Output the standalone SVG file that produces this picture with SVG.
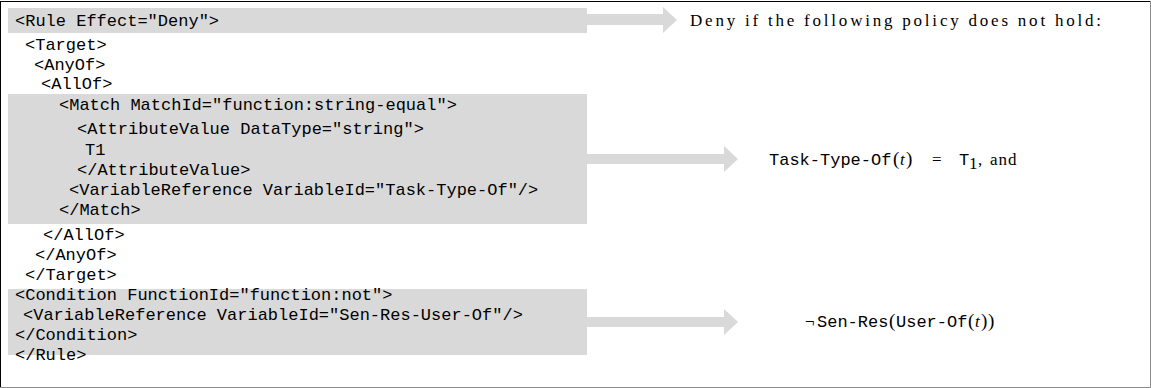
<svg xmlns="http://www.w3.org/2000/svg" width="1151" height="388" viewBox="0 0 1151 388">
<style>
.band{fill:#d9d9d9}
.arrow{fill:#d9d9d9}
.code{font-family:"Liberation Mono","DejaVu Sans Mono",monospace;font-size:17px;fill:#000}
.rm{font-family:"Liberation Serif","DejaVu Serif",serif;font-size:17px;fill:#000}
.it{font-family:"Liberation Serif","DejaVu Serif",serif;font-size:17px;font-style:italic;fill:#000}
.paren{font-family:"Liberation Serif","DejaVu Serif",serif;font-size:19px;fill:#000}
</style>
<rect x="0" y="0" width="1151" height="388" fill="#fff"/>
<g id="frame">
<line x1="0" y1="1.5" x2="1151" y2="1.5" stroke="#000" stroke-width="1"/>
<line x1="0.5" y1="1" x2="0.5" y2="387" stroke="#000" stroke-width="1"/>
<line x1="1150.5" y1="1" x2="1150.5" y2="387" stroke="#8c8c8c" stroke-width="1"/>
<line x1="0" y1="387.5" x2="1151" y2="387.5" stroke="#8c8c8c" stroke-width="1"/>
</g>
<g id="rule-open">
<rect class="band" x="8" y="8" width="579" height="25"/>
<text class="code" x="15" y="26">&lt;Rule Effect="Deny"&gt;</text>
</g>
<g id="target">
<text class="code" x="25" y="50">&lt;Target&gt;</text>
<text class="code" x="34" y="70">&lt;AnyOf&gt;</text>
<text class="code" x="41" y="89">&lt;AllOf&gt;</text>
</g>
<g id="match">
<rect class="band" x="8" y="94" width="579" height="130"/>
<text class="code" x="59" y="110">&lt;Match MatchId="function:string-equal"&gt;</text>
<text class="code" x="77" y="134">&lt;AttributeValue DataType="string"&gt;</text>
<text class="code" x="85" y="155">T1</text>
<text class="code" x="77" y="175">&lt;/AttributeValue&gt;</text>
<text class="code" x="69" y="195">&lt;VariableReference VariableId="Task-Type-Of"/&gt;</text>
<text class="code" x="59" y="215">&lt;/Match&gt;</text>
</g>
<g id="target-close">
<text class="code" x="43" y="240">&lt;/AllOf&gt;</text>
<text class="code" x="35" y="260">&lt;/AnyOf&gt;</text>
<text class="code" x="25" y="280">&lt;/Target&gt;</text>
</g>
<g id="condition">
<rect class="band" x="8" y="289" width="579" height="66"/>
<text class="code" x="15" y="300">&lt;Condition FunctionId="function:not"&gt;</text>
<text class="code" x="23" y="320">&lt;VariableReference VariableId="Sen-Res-User-Of"/&gt;</text>
<text class="code" x="15" y="340">&lt;/Condition&gt;</text>
</g>
<g id="rule-close">
<text class="code" x="15" y="360">&lt;/Rule&gt;</text>
</g>
<g id="connectors">
<path class="arrow" d="M587,14 H663 V7 L677,20 L663,33 V25 H587 Z"/>
<path class="arrow" d="M587,154 H724 V146 L738,159 L724,172 V164 H587 Z"/>
<path class="arrow" d="M587,317 H724 V309 L738,322 L724,335 V327 H587 Z"/>
</g>
<g id="deny-text">
<text class="rm" x="690" y="26" textLength="411" lengthAdjust="spacing">Deny if the following policy does not hold:</text>
</g>
<g id="task-formula">
<text class="code" x="769" y="165">Task-Type-Of</text>
<text class="paren" x="893" y="165">(</text>
<text class="it" x="900" y="165">t</text>
<text class="paren" x="906" y="165">)</text>
<text class="rm" x="932" y="165">=</text>
<text class="code" x="959" y="165">T</text>
<text class="rm" x="969" y="169" font-size="12">1</text>
<text class="rm" x="978" y="165">,</text>
<text class="rm" x="990" y="165" font-size="19" letter-spacing="1">and</text>
</g>
<g id="sen-formula">
<text class="rm" x="805" y="327">¬</text>
<text class="code" x="817" y="327">Sen-Res</text>
<text class="paren" x="889" y="327">(</text>
<text class="code" x="896" y="327">User-Of</text>
<text class="paren" x="968" y="327">(</text>
<text class="it" x="975" y="327">t</text>
<text class="paren" x="981" y="327">)</text>
<text class="paren" x="988" y="327">)</text>
</g>
</svg>
